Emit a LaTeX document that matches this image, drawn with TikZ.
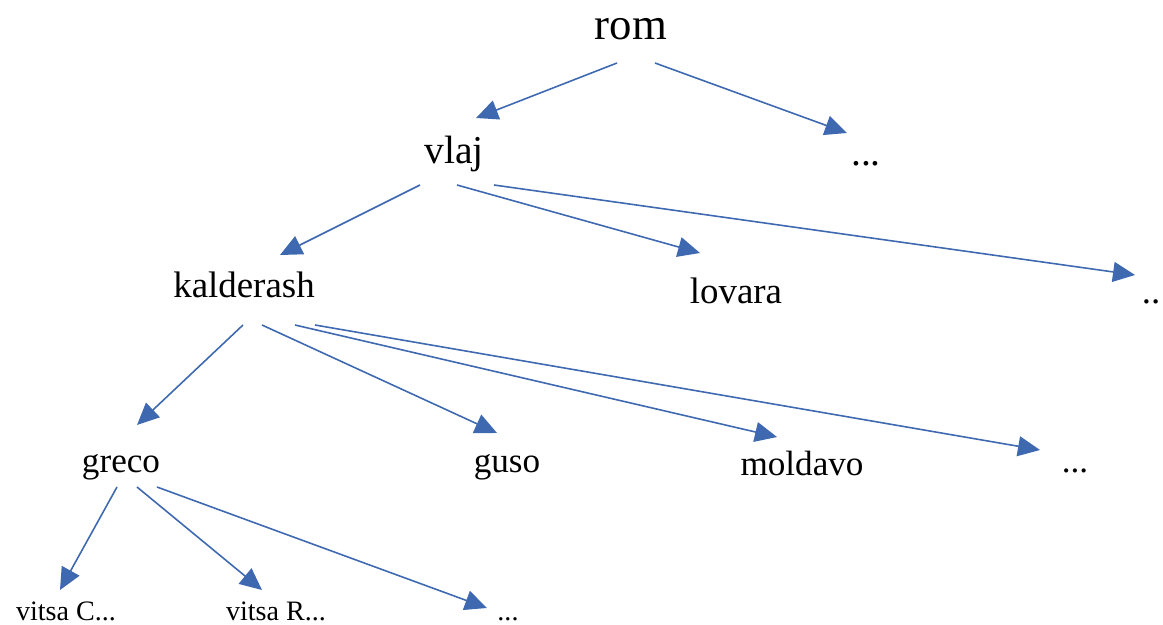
\documentclass[tikz,border=0pt]{standalone}
\usepackage{fontspec}
\setmainfont{Liberation Serif}
\usetikzlibrary{arrows.meta, positioning}

\definecolor{treeblue}{RGB}{62,104,176}

\begin{document}
\begin{tikzpicture}[
					x=0.02cm, y=-0.02cm,
					every node/.style={inner sep=0pt, anchor=base},
					top/.style={font=\fontsize{25.5pt}{30pt}\selectfont},
					lvla/.style={font=\fontsize{22.5pt}{27pt}\selectfont},
					lvlb/.style={font=\fontsize{21pt}{25pt}\selectfont},
					lvlc/.style={font=\fontsize{20pt}{24pt}\selectfont},
					lvld/.style={font=\fontsize{16pt}{19pt}\selectfont},
					arr/.style={draw=treeblue, line width=0.9pt,
						-{Triangle[length=0.44cm, width=0.4cm, fill=treeblue]}}]
				\useasboundingbox (0,0) rectangle (1163,625);
				\node[top]  (rom)       at (631,40)   {rom};
				\node[lvla] (vlaj)      at (454,163)  {vlaj};
				\node[lvla] (dotsa)     at (866,165)  {...};
				\node[lvlb] (kalderash) at (244,297)  {kalderash};
				\node[lvlb] (lovara)    at (736,303)  {lovara};
				\node[lvlb] (dotsb)     at (1151,303) {..};
				\node[lvlc] (greco)     at (121,472)  {greco};
				\node[lvlc] (guso)      at (507,472)  {guso};
				\node[lvlc] (moldavo)   at (802,475)  {moldavo};
				\node[lvlc] (dotsc)     at (1075,472) {...};
				\node[lvld] (vitsac)    at (66,620)   {vitsa C...};
				\node[lvld] (vitsar)    at (276,620)  {vitsa R...};
				\node[lvld] (dotsd)     at (508,620)  {...};
				\foreach \from/\fx/\fy/\to/\tx/\ty in {
						rom/-14/23/vlaj/22/-45, rom/24/23/dotsa/-19/-32,
						vlaj/-34/22/kalderash/36/-42, vlaj/3/22/lovara/-36/-50,
						vlaj/40/22/dotsb/-16/-28,
						kalderash/-1/28/greco/16/-47, kalderash/18/28/guso/-10/-39,
						kalderash/51/28/moldavo/-25/-38, kalderash/71/28/dotsc/-35/-22,
						greco/-4/15/vitsac/-6/-30, greco/16/15/vitsar/-14/-30,
						greco/36/15/dotsd/-21/-12}
					\draw[arr] ([shift={(\fx,\fy)}]\from.base) -- ([shift={(\tx,\ty)}]\to.base);
			\end{tikzpicture}
\end{document}
